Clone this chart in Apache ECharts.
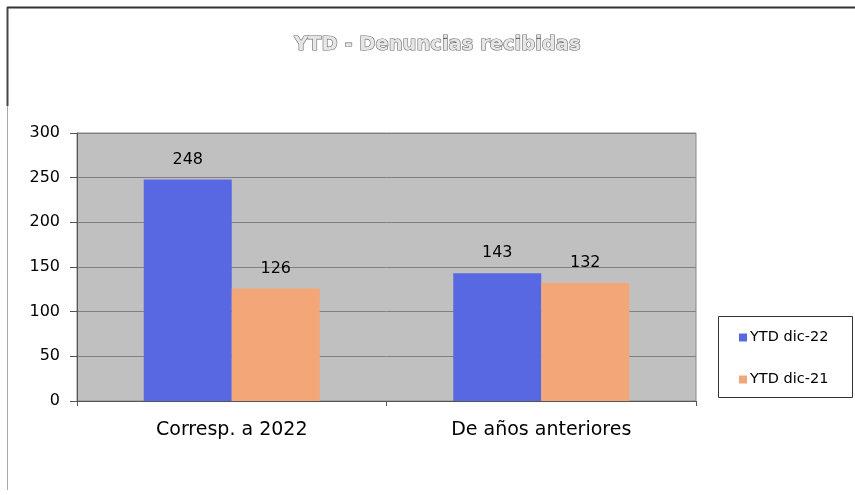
<!DOCTYPE html>
<html>
<head>
<meta charset="utf-8">
<script src="https://cdn.jsdelivr.net/npm/echarts@6/dist/echarts.min.js"></script>
<style>
  html, body { margin: 0; padding: 0; background: #ffffff; }
  #chart { width: 855px; height: 495px; }
</style>
</head>
<body>
<div id="chart"></div>
<script>
// Complaints received, year to date
const titleText = 'YTD - Denuncias recibidas';
const categories = ['Corresp. a 2022', 'De años anteriores'];
const seriesNames = ['YTD dic-22', 'YTD dic-21'];
const valuesDic22 = [248, 143];
const valuesDic21 = [126, 132];
const yTicks = [0, 50, 100, 150, 200, 250, 300];

const FONT = 'DejaVu Sans';
const chart = echarts.init(document.getElementById('chart'), null, { renderer: 'canvas' });

const barLabel = {
  show: true,
  position: 'top',
  distance: 12,
  color: '#000',
  fontFamily: FONT,
  fontSize: 16
};

chart.setOption({
  animation: false,
  backgroundColor: '#ffffff',
  title: {
    text: titleText,
    left: 289,
    top: 30,
    textStyle: {
      fontFamily: FONT,
      fontSize: 19.5,
      fontWeight: 'bold',
      color: '#e6e6e6',
      textBorderColor: '#6a6a6a',
      textBorderWidth: 1.2
    }
  },
  grid: {
    left: 77,
    top: 133,
    width: 619,
    height: 268,
    show: true,
    backgroundColor: '#c0c0c0',
    borderColor: '#888888',
    borderWidth: 1
  },
  legend: {
    orient: 'vertical',
    left: 734,
    top: 325,
    itemWidth: 8,
    itemHeight: 8,
    itemGap: 27,
    icon: 'rect',
    textStyle: { fontFamily: FONT, fontSize: 14.5, color: '#000', padding: [0, 0, 0, -2] },
    data: seriesNames
  },
  xAxis: {
    type: 'category',
    data: categories,
    axisLine: { lineStyle: { color: '#555', width: 1 } },
    axisTick: { show: true, length: 5, lineStyle: { color: '#555' } },
    axisLabel: { fontFamily: FONT, fontSize: 19, color: '#000', margin: 20 },
    splitLine: { show: false }
  },
  yAxis: {
    type: 'value',
    min: yTicks[0],
    max: yTicks[yTicks.length - 1],
    interval: 50,
    axisLine: { show: true, lineStyle: { color: '#555', width: 1 } },
    axisTick: { show: true, length: 7, lineStyle: { color: '#555' } },
    axisLabel: { fontFamily: FONT, fontSize: 16, color: '#000', margin: 17 },
    splitLine: { show: true, lineStyle: { color: '#808080', width: 1 } }
  },
  series: [
    {
      name: seriesNames[0],
      type: 'bar',
      data: valuesDic22,
      barWidth: 88,
      barGap: '0%',
      itemStyle: { color: '#5868e2' },
      label: barLabel
    },
    {
      name: seriesNames[1],
      type: 'bar',
      data: valuesDic21,
      barWidth: 88,
      barGap: '0%',
      itemStyle: { color: '#f3a677' },
      label: barLabel
    }
  ],
  graphic: [
    // outer frame: top edge and left edge
    { type: 'line', shape: { x1: 7, y1: 7.5, x2: 855, y2: 7.5 }, style: { stroke: '#333', lineWidth: 2 } },
    { type: 'line', shape: { x1: 7.5, y1: 7, x2: 7.5, y2: 106 }, style: { stroke: '#444', lineWidth: 2 } },
    { type: 'line', shape: { x1: 7.5, y1: 106, x2: 7.5, y2: 490 }, style: { stroke: '#aaa', lineWidth: 1 } },
    // legend box
    { type: 'rect', shape: { x: 718.5, y: 316.5, width: 134, height: 81 }, style: { fill: '#fff', stroke: '#333', lineWidth: 1 }, z: -1 }
  ]
});
</script>
</body>
</html>
